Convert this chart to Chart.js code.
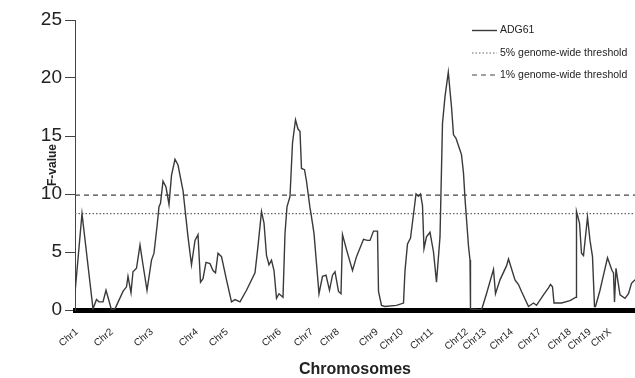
<!DOCTYPE html>
<html>
<head>
<meta charset="utf-8">
<script src="https://cdn.jsdelivr.net/npm/chart.js@4/dist/chart.umd.min.js"></script>
<style>
  html, body { margin: 0; padding: 0; background: #fff; }
  #wrap { width: 635px; height: 378px; }
</style>
</head>
<body>
<div id="wrap"><canvas id="chart" width="635" height="378"></canvas></div>
<script>
// genome position (plot units) and F-value
const positions = [
  0, 7, 18, 21.5, 24, 28, 31, 33, 36.5, 40, 48, 51.5, 53, 56, 58, 61.5, 65, 68, 72, 76.5,
  79, 82, 84, 85.5, 88, 91, 94, 96.5, 100, 103, 108, 113, 116.5, 120, 123, 125.5, 128, 131, 135, 138,
  140.5, 143, 146.5, 151.5, 156.5, 160, 165, 171.5, 180, 183, 186.5, 189, 191.5, 194, 196.5, 199, 201.5, 204, 208, 210,
  212, 215, 217.5, 220.5, 223, 225, 226.5, 229.5, 231.5, 235, 236, 239, 244, 247.5, 251, 254.5, 257.5, 260, 263.5, 266,
  267.5, 271.5, 277.5, 281.5, 288.5, 292.5, 295, 298.5, 302.5, 303.5, 306.5, 310, 321.5, 328.5, 330, 332.5, 335.5, 339, 341, 343.5,
  345.5, 347.5, 349, 351.5, 355, 358.5, 361.5, 365, 367.5, 370, 373.3, 376.5, 378.5, 381, 384.5, 386.5, 388.5, 390, 393.5, 395,
  395.5, 406.5, 411.5, 418.5, 420.5, 425, 431.5, 433.5, 440, 443.5, 446.5, 453.5, 458.5, 461.5, 468.5, 473.5, 475.5, 477.5, 479, 486.5,
  495, 501, 501.5, 504.5, 506.5, 508.5, 512.5, 515, 517.5, 519.5, 520.5, 525, 529, 532.5, 535, 537, 538.5, 539.5, 541, 542.5,
  545, 550, 553.5, 556.5, 560
];
const fValues = [
  1.5, 8.3, 0.1, 0.9, 0.7, 0.7, 1.7, 1.1, 0, 0.1, 1.6, 2.0, 2.9, 1.5, 3.3, 3.6, 5.6, 3.9, 1.7, 4.3,
  4.9, 7.2, 8.9, 9.2, 11.1, 10.6, 9.1, 11.6, 13.0, 12.5, 10.3, 6.3, 3.9, 6.0, 6.5, 2.4, 2.7, 4.1, 4.0, 3.4,
  3.2, 4.9, 4.6, 2.6, 0.7, 0.9, 0.7, 1.7, 3.2, 5.5, 8.5, 7.5, 4.7, 3.9, 4.3, 3.4, 1.0, 1.4, 1.1, 6.6,
  8.9, 9.8, 14.4, 16.4, 15.6, 15.4, 12.2, 12.1, 11.1, 8.8, 8.3, 6.6, 1.4, 2.9, 3.0, 1.7, 3.0, 3.3, 1.6, 1.4,
  6.5, 5.2, 3.4, 4.6, 6.1, 6.0, 6.0, 6.8, 6.8, 1.6, 0.4, 0.3, 0.4, 0.6, 3.4, 5.7, 6.2, 8.6, 10.0, 9.8,
  10.0, 9.0, 5.3, 6.3, 6.7, 5.0, 2.4, 6.3, 16.1, 18.4, 20.5, 17.5, 15.1, 14.8, 13.9, 13.4, 11.8, 9.6, 5.5, 4.3,
  0.1, 0, 1.4, 3.5, 1.4, 2.6, 3.8, 4.4, 2.6, 2.2, 1.6, 0.3, 0.6, 0.4, 1.3, 1.9, 2.2, 2.0, 0.6, 0.6,
  0.8, 1.1, 8.5, 7.5, 4.9, 4.7, 8.0, 6.0, 4.6, 0.3, 0.3, 1.7, 3.2, 4.5, 3.9, 3.4, 3.2, 0.7, 3.6, 2.7,
  1.3, 1.0, 1.4, 2.3, 2.6
];

const chrLabels = ['Chr1', 'Chr2', 'Chr3', 'Chr4', 'Chr5', 'Chr6', 'Chr7', 'Chr8', 'Chr9', 'Chr10',
  'Chr11', 'Chr12', 'Chr13', 'Chr14', 'Chr17', 'Chr18', 'Chr19', 'ChrX'];
const chrTicks = [2, 37, 77, 122, 152, 205, 237, 263, 302, 327, 357, 392, 410, 437, 465, 495, 515, 535];

const threshold5 = 8.3;
const threshold1 = 9.9;
const xRange = [0, 560];

const FONT = 'Liberation Sans, Arial, Helvetica, sans-serif';

// legend drawn in the top right corner, from the dataset styles
const legendPlugin = {
  id: 'cornerLegend',
  afterDraw(chart) {
    const ctx = chart.ctx;
    const rows = [30.5, 53, 75];
    ctx.save();
    chart.data.datasets.forEach((ds, i) => {
      const y = rows[i];
      ctx.strokeStyle = ds.borderColor;
      ctx.lineWidth = ds.borderWidth;
      ctx.setLineDash(ds.borderDash || []);
      ctx.beginPath();
      ctx.moveTo(472, y);
      ctx.lineTo(497, y);
      ctx.stroke();
      ctx.setLineDash([]);
      ctx.fillStyle = '#222';
      ctx.font = '10.5px ' + FONT;
      ctx.textBaseline = 'middle';
      ctx.fillText(ds.label, 500, y);
    });
    ctx.restore();
  }
};

new Chart(document.getElementById('chart').getContext('2d'), {
  type: 'line',
  data: {
    datasets: [
      {
        label: 'ADG61',
        data: positions.map((x, i) => ({ x: x, y: fValues[i] })),
        borderColor: '#3a3a3a',
        borderWidth: 1.4,
        pointRadius: 0,
        tension: 0
      },
      {
        label: '5% genome-wide threshold',
        data: xRange.map(x => ({ x: x, y: threshold5 })),
        borderColor: '#666',
        borderWidth: 1.2,
        borderDash: [1.5, 2],
        pointRadius: 0
      },
      {
        label: '1% genome-wide threshold',
        data: xRange.map(x => ({ x: x, y: threshold1 })),
        borderColor: '#444',
        borderWidth: 1.2,
        borderDash: [5, 4],
        pointRadius: 0
      }
    ]
  },
  options: {
    responsive: false,
    animation: false,
    layout: { padding: { top: 20, right: 0, left: 0, bottom: 0 } },
    plugins: {
      legend: { display: false },
      tooltip: { enabled: false }
    },
    scales: {
      x: {
        type: 'linear',
        min: xRange[0],
        max: xRange[1],
        grid: { display: false, drawTicks: false },
        border: { display: true, color: '#000', width: 5 },
        afterBuildTicks: scale => {
          scale.ticks = chrTicks.map(v => ({ value: v }));
        },
        afterFit: scale => { scale.height = 68; },
        ticks: {
          autoSkip: false,
          minRotation: 40,
          maxRotation: 40,
          padding: 16,
          color: '#222',
          font: { family: FONT, size: 10 },
          callback: (value, index) => chrLabels[index]
        },
        title: {
          display: true,
          text: 'Chromosomes',
          color: '#222',
          font: { family: FONT, size: 16, weight: 'bold', lineHeight: 1 },
          padding: { top: 0, bottom: 0 }
        }
      },
      y: {
        min: 0,
        max: 25,
        grid: { drawOnChartArea: false, tickLength: 10, color: '#444' },
        border: { display: true, color: '#444', width: 1 },
        afterFit: scale => { scale.width = 75; },
        ticks: {
          stepSize: 5,
          padding: 3,
          color: '#222',
          font: { family: FONT, size: 19 }
        },
        title: {
          display: true,
          text: 'F-value',
          color: '#222',
          font: { family: FONT, size: 12, weight: 'bold' },
          padding: { top: 45, bottom: 0 }
        }
      }
    }
  },
  plugins: [legendPlugin]
});
</script>
</body>
</html>
